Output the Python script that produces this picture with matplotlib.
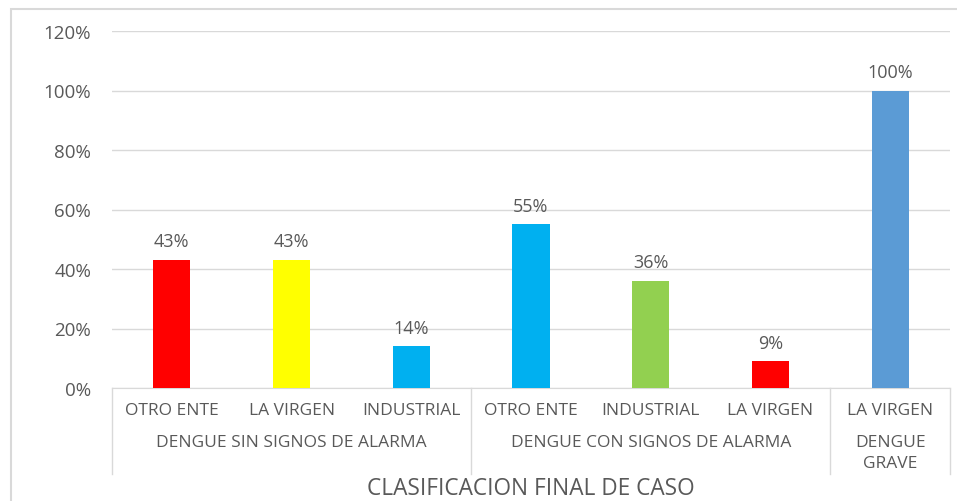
import matplotlib
matplotlib.use('Agg')
import matplotlib.pyplot as plt
from matplotlib.patches import Rectangle

# Data
subcats = ['OTRO ENTE', 'LA VIRGEN', 'INDUSTRIAL',
           'OTRO ENTE', 'INDUSTRIAL', 'LA VIRGEN',
           'LA VIRGEN']
values = [0.43, 0.43, 0.14, 0.55, 0.36, 0.09, 1.00]
bar_colors = ['#FF0000', '#FFFF00', '#00B0F0',
              '#00B0F0', '#92D050', '#FF0000',
              '#5B9BD5']
groups = ['DENGUE SIN SIGNOS DE ALARMA', 'DENGUE CON SIGNOS DE ALARMA',
          'DENGUE\nGRAVE']
group_sizes = [3, 3, 1]
yticks = [0, 0.2, 0.4, 0.6, 0.8, 1.0, 1.2]
xtitle = 'CLASIFICACION FINAL DE CASO'

TXT = '#595959'
GRID = '#D9D9D9'
W, H = 957, 502

plt.rcParams['font.family'] = ['Open Sans', 'DejaVu Sans']

fig = plt.figure(figsize=(W / 100, H / 100), dpi=100)
fig.patches.append(Rectangle((11 / W, -0.1), 1.2, 1 - 10 / H + 0.1,
                             transform=fig.transFigure, fill=False,
                             edgecolor=GRID, linewidth=1.5))

x0, x1, y0, y1 = 112, 950, 389, 32
ax = fig.add_axes([x0 / W, 1 - y0 / H, (x1 - x0) / W, (y0 - y1) / H])

xs = list(range(len(values)))
ax.bar(xs, values, width=0.31, color=bar_colors, zorder=3)
for x, v in zip(xs, values):
    ax.annotate(f'{v:.0%}', (x, v), xytext=(0, 7), textcoords='offset points',
                ha='center', va='bottom', fontsize=13, color=TXT)

ax.set_xlim(-0.5, len(values) - 0.5)
ax.set_ylim(0, 1.2)
ax.set_yticks(yticks)
ax.set_yticklabels([f'{t:.0%}' for t in yticks], fontsize=13.5, color=TXT)
ax.yaxis.grid(True, color=GRID, linewidth=1, zorder=0)
ax.tick_params(axis='y', length=0, pad=15)
ax.tick_params(axis='x', length=0)
ax.set_xticks([])
for s in ['top', 'right', 'left']:
    ax.spines[s].set_visible(False)
ax.spines['bottom'].set_color(GRID)

# multi-level category axis
tr = ax.get_xaxis_transform()
depth = (475 - 389) / (y0 - y1)
for x, lab in zip(xs, subcats):
    ax.text(x, -(411 - 389) / (y0 - y1), lab, transform=tr, ha='center',
            va='center', fontsize=12.5, color=TXT)
start = 0
bounds = [-0.5]
for g, n in zip(groups, group_sizes):
    mid = start + (n - 1) / 2
    ax.text(mid, -(435 - 389) / (y0 - y1), g, transform=tr, ha='center',
            va='top', fontsize=12.5, color=TXT, linespacing=1.4)
    start += n
    bounds.append(start - 0.5)
for b in bounds:
    ax.plot([b, b], [0, -depth], transform=tr, color=GRID, linewidth=1,
            clip_on=False)

fig.text(531 / W, 1 - 489 / H, xtitle, ha='center', va='center',
         fontsize=16.3, color=TXT)

fig.savefig('out.png', dpi=100)
